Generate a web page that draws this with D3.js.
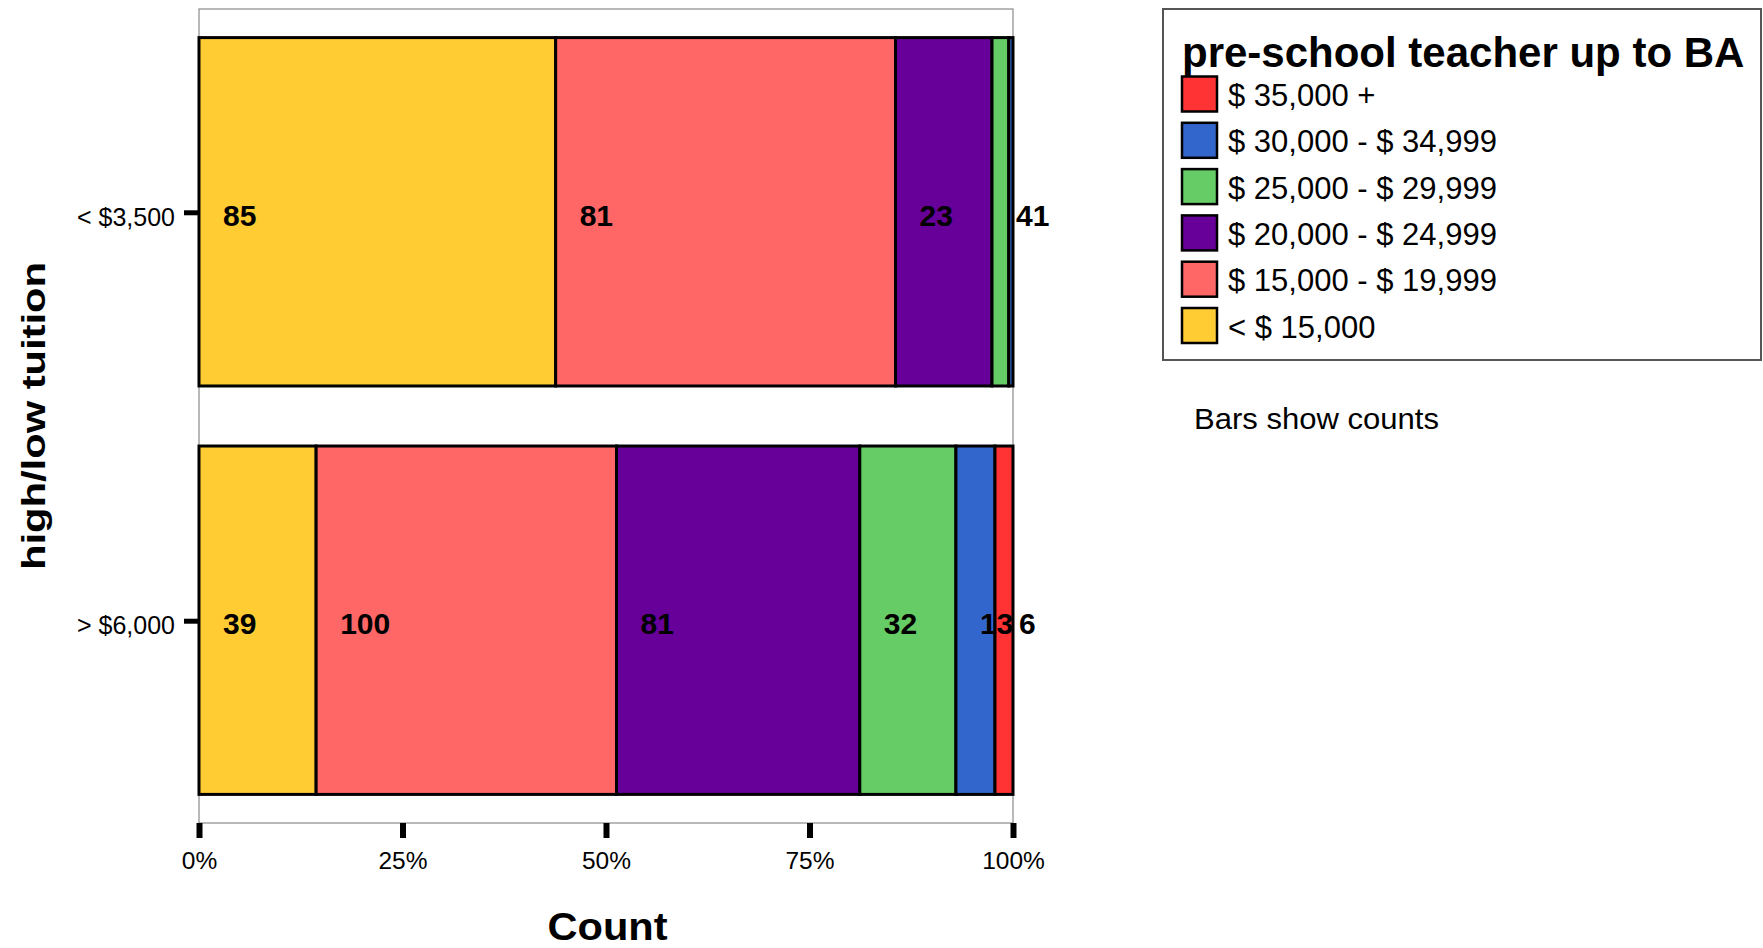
<!DOCTYPE html>
<html>
<head>
<meta charset="utf-8">
<script src="https://cdn.jsdelivr.net/npm/d3@7"></script>
<style>
  html, body { margin: 0; padding: 0; background: #fff; }
  svg { display: block; font-family: "Liberation Sans", Arial, Helvetica, sans-serif; }
</style>
</head>
<body>
<svg id="chart" width="1763" height="948"></svg>
<script>
// ---- data ----
const categories = ["< $3,500", "> $6,000"];
const seriesNames = ["< $ 15,000", "$ 15,000 - $ 19,999", "$ 20,000 - $ 24,999",
                     "$ 25,000 - $ 29,999", "$ 30,000 - $ 34,999", "$ 35,000 +"];
const seriesColors = ["#FFCC33", "#FF6666", "#660099", "#66CC66", "#3366CC", "#FF3333"];
const lowTuition = [85, 81, 23, 4, 1, 0];
const highTuition = [39, 100, 81, 32, 13, 6];
const xTicks = [0, 0.25, 0.5, 0.75, 1];
const legendTitle = "pre-school teacher up to BA";
const yTitle = "high/low tuition";
const xTitle = "Count";
const note = "Bars show counts";

const rows = [
  { cat: categories[0], values: lowTuition },
  { cat: categories[1], values: highTuition }
];

const svg = d3.select("#chart");

const x = d3.scaleLinear().domain([0, 1]).range([199, 1013]);
const y = d3.scaleBand().domain(categories).range([9, 823])
  .paddingInner(0.147).paddingOuter(0.07);

// plot frame
svg.append("rect")
  .attr("x", x(0)).attr("y", 9)
  .attr("width", x(1) - x(0)).attr("height", 823 - 9)
  .attr("fill", "none").attr("stroke", "#8a8a8a").attr("stroke-width", 1.2);

// segments
const segs = [];
rows.forEach(r => {
  const total = d3.sum(r.values);
  let cum = 0;
  r.values.forEach((v, i) => {
    segs.push({ cat: r.cat, i, v, x0: cum / total, x1: (cum + v) / total });
    cum += v;
  });
});
const drawn = segs.filter(d => d.v > 0);

svg.append("g").selectAll("rect").data(drawn).join("rect")
  .attr("x", d => x(d.x0))
  .attr("y", d => y(d.cat))
  .attr("width", d => x(d.x1) - x(d.x0))
  .attr("height", y.bandwidth())
  .attr("fill", d => seriesColors[d.i])
  .attr("stroke", "#000").attr("stroke-width", 3);

svg.append("g").selectAll("text").data(drawn).join("text")
  .attr("x", d => x(d.x0) + 24)
  .attr("y", d => y(d.cat) + y.bandwidth() / 2 + 14)
  .attr("font-size", 30).attr("font-weight", "bold").attr("fill", "#000")
  .text(d => d.v);

// x axis
const gx = svg.append("g").attr("transform", `translate(0,823)`)
  .call(d3.axisBottom(x).tickValues(xTicks).tickFormat(d3.format(".0%")).tickSize(15));
gx.select(".domain").remove();
gx.selectAll(".tick line").attr("stroke", "#000").attr("stroke-width", 6);
gx.selectAll(".tick text").attr("dy", null).attr("y", 46)
  .attr("font-size", 24.5).attr("fill", "#000")
  .attr("font-family", "'Liberation Sans', Arial, sans-serif");

// y axis
const gy = svg.append("g").attr("transform", `translate(${x(0)},0)`)
  .call(d3.axisLeft(y).tickSize(15).tickPadding(9));
gy.select(".domain").remove();
gy.selectAll(".tick line").attr("stroke", "#000").attr("stroke-width", 5)
  .attr("transform", "translate(0,1)");
gy.selectAll(".tick text").attr("dy", null).attr("y", 14)
  .attr("font-size", 25).attr("fill", "#000")
  .attr("font-family", "'Liberation Sans', Arial, sans-serif");

// axis titles
svg.append("text")
  .attr("transform", "translate(45,416) rotate(-90)")
  .attr("text-anchor", "middle")
  .attr("font-size", 34).attr("font-weight", "bold")
  .attr("textLength", 308).attr("lengthAdjust", "spacingAndGlyphs")
  .text(yTitle);

svg.append("text")
  .attr("x", (x(0) + x(1)) / 2 + 1.5).attr("y", 940)
  .attr("text-anchor", "middle")
  .attr("font-size", 38).attr("font-weight", "bold")
  .attr("textLength", 120).attr("lengthAdjust", "spacingAndGlyphs")
  .text(xTitle);

// legend
const lg = svg.append("g");
lg.append("rect")
  .attr("x", 1163).attr("y", 9).attr("width", 598).attr("height", 351)
  .attr("fill", "#fff").attr("stroke", "#555").attr("stroke-width", 2);
lg.append("text")
  .attr("x", 1182).attr("y", 67)
  .attr("font-size", 42).attr("font-weight", "bold")
  .text(legendTitle);

const legendOrder = d3.range(seriesNames.length).reverse();
const ly = d3.scalePoint().domain(legendOrder).range([94, 325.5]);
const items = lg.selectAll("g.item").data(legendOrder).join("g").attr("class", "item");
items.append("rect")
  .attr("x", 1182).attr("y", d => ly(d) - 17.5)
  .attr("width", 35).attr("height", 35)
  .attr("fill", d => seriesColors[d])
  .attr("stroke", "#000").attr("stroke-width", 2.5);
items.append("text")
  .attr("x", 1228).attr("y", d => ly(d) + 12)
  .attr("font-size", 31)
  .text(d => seriesNames[d]);

svg.append("text")
  .attr("x", 1194).attr("y", 429)
  .attr("font-size", 29)
  .attr("textLength", 245).attr("lengthAdjust", "spacingAndGlyphs")
  .text(note);
</script>
</body>
</html>
